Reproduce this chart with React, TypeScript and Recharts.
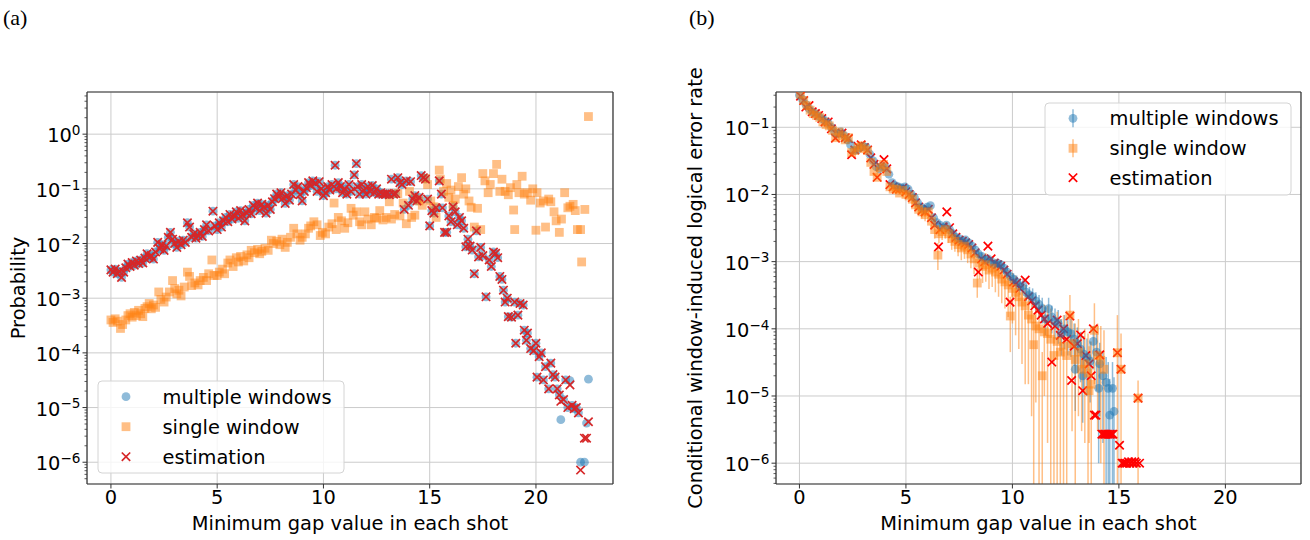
import React from 'react';
import { ScatterChart, Scatter, XAxis, YAxis, CartesianGrid, ErrorBar } from 'recharts';

const FONT = '"DejaVu Sans", "Noto Sans", sans-serif';
const SERIF = '"Liberation Serif", "DejaVu Serif", serif';
const FS = 19.4;
const BLUE = '#1f77b4';
const ORANGE = '#ff7f0e';
const TABRED = '#d62728';
const RED = '#ff0000';
const GRID = '#cbcbcb';
const SPINE = '#333333';
const N = null;
const THIN = 0.01;

// ---------------- Panel (a): probability vs minimum gap ----------------
const gapA = [
  0.0, 0.1, 0.2, 0.3, 0.4, 0.5, 0.6, 0.7, 0.8, 0.9,
  1.0, 1.1, 1.2, 1.3, 1.4, 1.5, 1.6, 1.7, 1.8, 1.9,
  2.0, 2.1, 2.2, 2.3, 2.4, 2.5, 2.6, 2.7, 2.8, 2.9,
  3.0, 3.1, 3.2, 3.3, 3.4, 3.5, 3.6, 3.7, 3.8, 3.9,
  4.0, 4.1, 4.2, 4.3, 4.4, 4.5, 4.6, 4.8, 4.9, 5.0,
  5.1, 5.2, 5.3, 5.4, 5.5, 5.6, 5.7, 5.8, 5.9, 6.0,
  6.1, 6.2, 6.3, 6.4, 6.5, 6.6, 6.7, 6.8, 6.9, 7.0,
  7.1, 7.2, 7.3, 7.4, 7.5, 7.6, 7.7, 7.8, 7.9, 8.0,
  8.1, 8.2, 8.3, 8.4, 8.5, 8.6, 8.7, 8.8, 8.9, 9.0,
  9.1, 9.2, 9.3, 9.4, 9.5, 9.6, 9.7, 9.8, 9.9, 10.0,
  10.1, 10.2, 10.3, 10.4, 10.55, 10.6, 10.7, 10.8, 10.9, 11.0,
  11.1, 11.2, 11.3, 11.45, 11.55, 11.6, 11.7, 11.8, 11.9, 12.0,
  12.1, 12.2, 12.3, 12.4, 12.5, 12.6, 12.7, 12.8, 12.9, 13.0,
  13.1, 13.2, 13.3, 13.4, 13.5, 13.6, 13.7, 13.8, 13.9, 14.0,
  14.1, 14.2, 14.3, 14.4, 14.5, 14.6, 14.7, 14.8, 14.9, 15.0,
  15.1, 15.2, 15.3, 15.45, 15.55, 15.6, 15.7, 15.8, 15.9, 16.0,
  16.1, 16.2, 16.3, 16.4, 16.5, 16.6, 16.7, 16.8, 16.9, 17.0,
  17.1, 17.2, 17.3, 17.4, 17.5, 17.65, 17.8, 17.9, 18.0, 18.1,
  18.2, 18.3, 18.4, 18.47, 18.55, 18.65, 18.7, 18.85, 19.0, 19.05,
  19.15, 19.25, 19.4, 19.45, 19.55, 19.6, 19.75, 19.9, 20.0, 20.05,
  20.15, 20.25, 20.35, 20.45, 20.6, 20.7, 20.8, 20.9, 21.0, 21.1,
  21.17, 21.3, 21.4, 21.5, 21.6, 21.7, 21.8, 21.9, 22.0, 22.1,
  22.28, 22.38, 22.47,
];
const probA_multi = [
  3.3e-3, 3.0e-3, 3.4e-3, 2.8e-3, 3.1e-3, 2.4e-3, 3.0e-3, 3.6e-3, 4.2e-3, 3.8e-3,
  4.5e-3, 4.0e-3, 4.8e-3, 4.3e-3, 5.0e-3, 4.4e-3, 5.4e-3, 6.5e-3, 5.6e-3, 6.0e-3,
  5.2e-3, 7.0e-3, 1.05e-2, 8.0e-3, 9.5e-3, 7.5e-3, 9.0e-3, 1.3e-2, 1.6e-2, 1.2e-2,
  1.0e-2, 8.5e-3, 1.1e-2, 9.5e-3, 1.15e-2, 1.05e-2, 2.4e-2, 2.0e-2, 1.3e-2, 1.5e-2,
  1.25e-2, 1.4e-2, 1.6e-2, 1.35e-2, 1.8e-2, 2.2e-2, 1.7e-2, 3.9e-2, 2.1e-2, 1.8e-2,
  2.4e-2, 2.0e-2, 2.6e-2, 3.0e-2, 2.5e-2, 3.4e-2, 2.8e-2, 3.2e-2, 3.8e-2, 2.9e-2,
  4.0e-2, 3.3e-2, 2.6e-2, 3.6e-2, 4.2e-2, 3.5e-2, 5.0e-2, 4.5e-2, 5.5e-2, 4.0e-2,
  5.2e-2, 4.6e-2, 3.6e-2, 5.0e-2, 4.2e-2, 5.8e-2, 6.6e-2, 8.0e-2, 7.2e-2, 8.5e-2,
  6.8e-2, 5.4e-2, 7.5e-2, 6.2e-2, 8.0e-2, 1.2e-1, 9.5e-2, 1.1e-1, 7.8e-2, 6.0e-2,
  9.0e-2, 1.05e-1, 1.3e-1, 1.15e-1, 1.4e-1, 1.25e-1, 9.0e-2, 1.35e-1, 1.0e-1, 7.5e-2,
  8.5e-2, 1.1e-1, 9.5e-2, 1.2e-1, 2.7e-1, 1.0e-1, 1.3e-1, 1.1e-1, 8.5e-2, 1.0e-1,
  8.0e-2, 1.2e-1, 9.0e-2, 1.8e-1, 2.9e-1, 1.1e-1, 8.0e-2, 1.2e-1, 9.5e-2, 8.0e-2,
  1.1e-1, 9.0e-2, 1.15e-1, 8.5e-2, 1.0e-1, 8.0e-2, 8.5e-2, 8.0e-2, 8.0e-2, 8.2e-2,
  7.8e-2, 1.5e-1, 8.0e-2, 8.2e-2, 1.6e-1, 1.3e-1, 1.2e-1, 4.2e-2, 1.4e-1, 5.0e-2,
  1.35e-1, 6.5e-2, 7.5e-2, 6.0e-2, 7.0e-2, 1.75e-1, 1.6e-1, 1.5e-1, 6.5e-2, 2.1e-2,
  4.0e-2, 3.6e-2, 4.5e-2, 1.4e-1, 8.0e-2, 4.5e-2, 1.6e-2, 1.6e-2, 3.2e-2, 2.5e-2,
  4.7e-2, 3.8e-2, 2.2e-2, 3.0e-2, 2.6e-2, 1.9e-2, 8.7e-3, 1.2e-2, 9.0e-3, 7.6e-3,
  2.8e-3, 1.7e-2, 5.7e-3, 8.5e-3, 6.0e-3, 1.06e-3, 5.0e-3, 3.8e-3, 7.0e-3, 6.6e-3,
  5.5e-3, 2.5e-3, 2.2e-3, 1.4e-3, 8.5e-4, 1.0e-3, 4.6e-4, 4.5e-4, 8.5e-4, 1.5e-4,
  4.9e-4, 8.0e-4, 7.5e-4, 2.6e-4, 1.7e-4, 2.3e-4, 1.2e-4, 1.1e-4, 1.5e-4, 3.6e-5,
  8.5e-5, 1.0e-4, 3.2e-5, 5.6e-5, 2.2e-5, 6.5e-5, 4.0e-5, 3.6e-5, 2.2e-5, 1.7e-5,
  6.0e-6, 1.4e-5, 3.2e-5, 1.0e-5, 3.1e-5, 1.1e-5, 9.5e-6, 1.0e-5, 8.0e-6, 1.0e-6,
  1.0e-6, 5.2e-6, 3.3e-5,
];
const probA_est = [
  3.3e-3, 3.0e-3, 3.4e-3, 2.8e-3, 3.1e-3, 2.4e-3, 3.0e-3, 3.6e-3, 4.2e-3, 3.8e-3,
  4.5e-3, 4.0e-3, 4.8e-3, 4.3e-3, 5.0e-3, 4.4e-3, 5.4e-3, 6.5e-3, 5.6e-3, 6.0e-3,
  5.2e-3, 7.0e-3, 1.05e-2, 8.0e-3, 9.5e-3, 7.5e-3, 9.0e-3, 1.3e-2, 1.6e-2, 1.2e-2,
  1.0e-2, 8.5e-3, 1.1e-2, 9.5e-3, 1.15e-2, 1.05e-2, 2.4e-2, 2.0e-2, 1.3e-2, 1.5e-2,
  1.25e-2, 1.4e-2, 1.6e-2, 1.35e-2, 1.8e-2, 2.2e-2, 1.7e-2, 3.9e-2, 2.1e-2, 1.8e-2,
  2.4e-2, 2.0e-2, 2.6e-2, 3.0e-2, 2.5e-2, 3.4e-2, 2.8e-2, 3.2e-2, 3.8e-2, 2.9e-2,
  4.0e-2, 3.3e-2, 2.6e-2, 3.6e-2, 4.2e-2, 3.5e-2, 5.0e-2, 4.5e-2, 5.5e-2, 4.0e-2,
  5.2e-2, 4.6e-2, 3.6e-2, 5.0e-2, 4.2e-2, 5.8e-2, 6.6e-2, 8.0e-2, 7.2e-2, 8.5e-2,
  6.8e-2, 5.4e-2, 7.5e-2, 6.2e-2, 8.0e-2, 1.2e-1, 9.5e-2, 1.1e-1, 7.8e-2, 6.0e-2,
  9.0e-2, 1.05e-1, 1.3e-1, 1.15e-1, 1.4e-1, 1.25e-1, 9.0e-2, 1.35e-1, 1.0e-1, 7.5e-2,
  8.5e-2, 1.1e-1, 9.5e-2, 1.2e-1, 2.7e-1, 1.0e-1, 1.3e-1, 1.1e-1, 8.5e-2, 1.0e-1,
  8.0e-2, 1.2e-1, 9.0e-2, 1.8e-1, 2.9e-1, 1.1e-1, 8.0e-2, 1.2e-1, 9.5e-2, 8.0e-2,
  1.1e-1, 9.0e-2, 1.15e-1, 8.5e-2, 1.0e-1, 8.0e-2, 8.5e-2, 8.0e-2, 8.0e-2, 8.2e-2,
  7.8e-2, 1.5e-1, 8.0e-2, 8.2e-2, 1.6e-1, 1.3e-1, 1.2e-1, 4.2e-2, 1.4e-1, 5.0e-2,
  1.35e-1, 6.5e-2, 7.5e-2, 6.0e-2, 7.0e-2, 1.75e-1, 1.6e-1, 1.5e-1, 6.5e-2, 2.1e-2,
  4.0e-2, 3.6e-2, 4.5e-2, 1.4e-1, 8.0e-2, 4.5e-2, 1.6e-2, 1.6e-2, 3.2e-2, 2.5e-2,
  4.7e-2, 3.8e-2, 2.2e-2, 3.0e-2, 2.6e-2, 1.9e-2, 8.7e-3, 1.2e-2, 9.0e-3, 7.6e-3,
  2.8e-3, 1.7e-2, 5.7e-3, 8.5e-3, 6.0e-3, 1.06e-3, 5.0e-3, 3.8e-3, 7.0e-3, 6.6e-3,
  5.5e-3, 2.5e-3, 2.2e-3, 1.4e-3, 8.5e-4, 1.0e-3, 4.6e-4, 4.5e-4, 8.5e-4, 1.5e-4,
  4.9e-4, 8.0e-4, 7.5e-4, 2.6e-4, 1.7e-4, 2.3e-4, 1.2e-4, 1.1e-4, 1.5e-4, 3.6e-5,
  8.5e-5, 1.0e-4, 3.2e-5, 5.6e-5, 2.2e-5, 6.5e-5, 4.0e-5, 3.6e-5, 2.2e-5, 1.7e-5,
  1.3e-5, 1.4e-5, 3.2e-5, 1.0e-5, 2.6e-5, 1.1e-5, 9.5e-6, 1.0e-5, 8.0e-6, 7.2e-7,
  2.75e-6, 2.75e-6, 5.5e-6,
];
const gapA_single = [
  0.0, 0.1, 0.2, 0.3, 0.45, 0.55, 0.7, 0.8, 0.9, 1.0,
  1.1, 1.2, 1.3, 1.4, 1.5, 1.6, 1.7, 1.8, 1.9, 2.0,
  2.1, 2.25, 2.35, 2.5, 2.6, 2.75, 2.9, 3.0, 3.1, 3.2,
  3.3, 3.45, 3.6, 3.7, 3.8, 3.95, 4.1, 4.2, 4.35, 4.5,
  4.6, 4.75, 4.85, 5.0, 5.1, 5.25, 5.35, 5.5, 5.6, 5.75,
  5.9, 6.0, 6.1, 6.25, 6.4, 6.5, 6.6, 6.75, 6.9, 7.0,
  7.1, 7.25, 7.4, 7.55, 7.65, 7.8, 7.95, 8.05, 8.2, 8.3,
  8.45, 8.6, 8.75, 8.9, 9.0, 9.15, 9.3, 9.4, 9.55, 9.7,
  9.85, 9.95, 10.1, 10.25, 10.4, 10.5, 10.6, 10.7, 10.85, 11.0,
  11.15, 11.3, 11.4, 11.55, 11.7, 11.8, 11.95, 12.1, 12.25, 12.4,
  12.5, 12.65, 12.8, 12.95, 13.1, 13.2, 13.35, 13.5, 13.6, 13.75,
  13.9, 14.05, 14.15, 14.3, 14.4, 14.5, 14.65, 14.8, 14.9, 15.05,
  15.2, 15.3, 15.45, 15.5, 15.65, 15.8, 15.9, 16.0, 16.1, 16.2,
  16.35, 16.5, 16.6, 16.7, 16.85, 16.95, 17.1, 17.25, 17.4, 17.5,
  17.6, 17.75, 17.85, 18.0, 18.15, 18.3, 18.4, 18.55, 18.7, 18.8,
  18.95, 19.0, 19.1, 19.2, 19.35, 19.45, 19.6, 19.75, 19.85, 20.0,
  20.05, 20.2, 20.35, 20.45, 20.6, 20.7, 20.85, 20.95, 21.1, 21.2,
  21.35, 21.5, 21.6, 21.75, 21.85, 21.95, 22.1, 22.15, 22.3, 22.47,
];
const probA_single = [
  4.0e-4, 3.6e-4, 4.2e-4, 3.8e-4, 2.8e-4, 3.3e-4, 4.0e-4, 4.8e-4, 5.2e-4, 4.5e-4,
  5.5e-4, 4.8e-4, 6.0e-4, 5.2e-4, 4.6e-4, 6.5e-4, 7.0e-4, 8.0e-4, 6.4e-4, 7.5e-4,
  6.8e-4, 1.3e-3, 9.5e-4, 8.5e-4, 1.05e-3, 1.3e-3, 2.1e-3, 1.5e-3, 1.2e-3, 1.4e-3,
  1.1e-3, 1.6e-3, 3.0e-3, 2.5e-3, 1.7e-3, 1.9e-3, 1.75e-3, 2.1e-3, 2.4e-3, 2.1e-3,
  2.8e-3, 5.0e-3, 2.6e-3, 2.6e-3, 3.0e-3, 3.4e-3, 2.8e-3, 4.4e-3, 5.0e-3, 3.8e-3,
  5.5e-3, 4.6e-3, 5.8e-3, 4.8e-3, 6.2e-3, 5.5e-3, 7.5e-3, 6.8e-3, 7.8e-3, 6.5e-3,
  7.2e-3, 8.2e-3, 7.5e-3, 1.15e-2, 1.0e-2, 1.1e-2, 9.5e-3, 1.2e-2, 8.5e-3, 1.05e-2,
  1.3e-2, 1.9e-2, 1.5e-2, 1.15e-2, 1.3e-2, 1.5e-2, 1.9e-2, 2.1e-2, 2.5e-2, 2.2e-2,
  1.4e-2, 1.6e-2, 1.5e-2, 2.0e-2, 2.3e-2, 5.5e-2, 1.8e-2, 3.0e-2, 2.6e-2, 1.9e-2,
  2.4e-2, 4.4e-2, 3.3e-2, 3.8e-2, 2.5e-2, 2.2e-2, 3.8e-2, 2.8e-2, 2.2e-2, 3.0e-2,
  2.9e-2, 4.0e-2, 2.7e-2, 3.0e-2, 5.8e-2, 2.8e-2, 3.4e-2, 8.2e-2, 3.2e-2, 5.5e-2,
  2.3e-2, 9.0e-2, 3.0e-2, 3.3e-2, 6.5e-2, 6.0e-2, 5.0e-2, 1.55e-1, 1.2e-1, 6.0e-2,
  4.7e-2, 3.0e-2, 2.2e-1, 1.5e-1, 9.0e-2, 1.25e-1, 7.0e-2, 9.5e-2, 5.0e-2, 6.5e-2,
  1.1e-1, 1.6e-1, 8.0e-2, 1.0e-1, 6.0e-2, 4.6e-2, 2.0e-2, 4.4e-2, 1.8e-2, 1.9e-1,
  1.4e-1, 8.5e-2, 1.2e-1, 1.9e-1, 2.8e-1, 9.0e-2, 1.5e-1, 9.0e-2, 7.8e-2, 1.05e-1,
  4.1e-2, 1.8e-2, 1.2e-1, 8.5e-2, 1.7e-1, 8.0e-2, 8.5e-2, 6.2e-2, 1.0e-1, 1.75e-2,
  8.5e-2, 5.5e-2, 6.0e-2, 2.0e-2, 6.5e-2, 5.8e-2, 3.8e-2, 2.6e-2, 1.6e-2, 2.8e-2,
  8.5e-2, 4.5e-2, 4.8e-2, 5.2e-2, 4.0e-2, 1.8e-2, 1.8e-2, 4.6e-3, 4.2e-2, 2.1,
];

// ---------------- Panel (b): conditional window-induced logical error rate ----------------
const gapB_multi = [
  0.0, 0.15, 0.3, 0.45, 0.6, 0.75, 0.9, 1.05, 1.2, 1.35,
  1.5, 1.65, 1.8, 1.95, 2.1, 2.25, 2.4, 2.55, 2.7, 2.85,
  3.0, 3.15, 3.3, 3.45, 3.6, 3.75, 3.9, 4.05, 4.2, 4.35,
  4.5, 4.65, 4.8, 4.95, 5.1, 5.25, 5.4, 5.55, 5.7, 5.85,
  6.0, 6.15, 6.3, 6.45, 6.6, 6.75, 6.9, 7.05, 7.2, 7.35,
  7.5, 7.65, 7.8, 7.95, 8.1, 8.25, 8.4, 8.55, 8.7, 8.85,
  9.0, 9.15, 9.3, 9.45, 9.6, 9.75, 9.9, 10.05, 10.2, 10.35,
  10.5, 10.65, 10.8, 10.95, 11.1, 11.25, 11.4, 11.55, 11.7, 11.85,
  12.0, 12.15, 12.3, 12.45, 12.6, 12.75, 12.9, 12.95, 13.05, 13.2,
  13.3, 13.35, 13.5, 13.65, 13.8, 13.95, 14.05, 14.1, 14.25, 14.4,
  14.5, 14.57, 14.7, 14.77,
];
const rateB_multi = [
  3.0e-1, 2.6e-1, 2.2e-1, 1.9e-1, 1.7e-1, 1.6e-1, 1.45e-1, 1.35e-1, 1.25e-1, 1.15e-1,
  1.0e-1, 8.5e-2, 8.0e-2, 8.5e-2, 7.5e-2, 6.5e-2, 5.5e-2, 4.5e-2, 4.6e-2, 5.0e-2,
  5.2e-2, 5.0e-2, 4.0e-2, 3.2e-2, 2.6e-2, 2.4e-2, 2.6e-2, 2.5e-2, 2.0e-2, 1.5e-2,
  1.35e-2, 1.3e-2, 1.25e-2, 1.3e-2, 1.2e-2, 1.0e-2, 9.0e-3, 7.5e-3, 6.5e-3, 6.0e-3,
  6.5e-3, 6.8e-3, 4.5e-3, 3.8e-3, 3.5e-3, 3.2e-3, 3.5e-3, 3.0e-3, 2.6e-3, 2.3e-3,
  2.2e-3, 2.0e-3, 2.1e-3, 1.9e-3, 1.7e-3, 1.5e-3, 1.3e-3, 1.2e-3, 1.05e-3, 1.1e-3,
  1.0e-3, 9.0e-4, 9.5e-4, 9.0e-4, 8.0e-4, 7.0e-4, 6.0e-4, 5.5e-4, 5.0e-4, 4.2e-4,
  4.4e-4, 3.5e-4, 3.2e-4, 3.0e-4, 2.6e-4, 2.3e-4, 2.0e-4, 1.4e-4, 2.0e-4, 1.5e-4,
  1.3e-4, 1.2e-4, 8.5e-5, 1.0e-4, 9.0e-5, 8.5e-5, 7.0e-5, 2.5e-5, 6.0e-5, 5.0e-5,
  2.0e-5, 4.2e-5, 3.8e-5, 3.3e-5, 6.5e-5, 4.5e-5, 1.3e-5, 3.0e-5, 2.0e-5, 1.6e-5,
  1.3e-5, 5.2e-6, 1.3e-5, 5.9e-6,
];
// lower / upper ends of the error bars (null = bar hidden by the marker, 0 = bar reaches zero)
const loB_multi = [
  N, N, N, N, N, N, N, N, N, N,
  N, N, N, N, N, N, N, N, N, N,
  N, N, N, N, N, N, N, N, N, N,
  N, N, N, N, N, N, N, N, N, N,
  N, N, N, N, N, N, N, N, N, N,
  N, N, N, N, N, N, 1.15e-3, 1.05e-3, 9.0e-4, 9.5e-4,
  8.5e-4, 7.7e-4, 8.0e-4, 7.5e-4, 6.6e-4, 5.7e-4, 4.8e-4, 4.4e-4, 3.9e-4, 3.2e-4,
  3.4e-4, 2.6e-4, 2.3e-4, 2.1e-4, 1.8e-4, 1.5e-4, 1.2e-4, 8.0e-5, 1.2e-4, 8.5e-5,
  7.0e-5, 6.0e-5, 4.0e-5, 5.0e-5, 4.0e-5, 3.8e-5, 2.8e-5, 6.0e-6, 2.2e-5, 1.6e-5,
  4.0e-6, 1.2e-5, 1.0e-5, 8.0e-6, 2.5e-5, 1.2e-5, 1.0e-6, 5.0e-6, 2.0e-6, 0,
  0, 0, 0, 0,
];
const hiB_multi = [
  N, N, N, N, N, N, N, N, N, N,
  N, N, N, N, N, N, N, N, N, N,
  N, N, N, N, N, N, N, N, N, N,
  N, N, N, N, N, N, N, N, N, N,
  N, N, N, N, N, N, N, N, N, N,
  N, N, N, N, N, N, 1.45e-3, 1.35e-3, 1.2e-3, 1.25e-3,
  1.15e-3, 1.05e-3, 1.1e-3, 1.05e-3, 9.5e-4, 8.4e-4, 7.3e-4, 6.7e-4, 6.2e-4, 5.3e-4,
  5.5e-4, 4.5e-4, 4.2e-4, 4.0e-4, 3.5e-4, 3.2e-4, 2.9e-4, 2.1e-4, 2.9e-4, 2.2e-4,
  2.0e-4, 1.9e-4, 1.4e-4, 1.6e-4, 1.5e-4, 1.4e-4, 1.2e-4, 5.0e-5, 1.05e-4, 9.0e-5,
  4.2e-5, 7.8e-5, 7.2e-5, 6.5e-5, 1.1e-4, 8.5e-5, 3.2e-5, 6.2e-5, 4.5e-5, 3.8e-5,
  3.2e-5, 1.8e-5, 3.2e-5, 1.9e-5,
];
const gapB_single = [
  0.05, 0.2, 0.35, 0.5, 0.65, 0.8, 0.95, 1.1, 1.25, 1.4,
  1.55, 1.7, 1.85, 2.0, 2.15, 2.3, 2.45, 2.6, 2.75, 2.9,
  3.05, 3.2, 3.35, 3.5, 3.65, 3.8, 3.95, 4.1, 4.25, 4.4,
  4.55, 4.7, 4.85, 5.0, 5.15, 5.3, 5.45, 5.6, 5.75, 5.9,
  6.05, 6.2, 6.35, 6.5, 6.55, 6.7, 6.85, 7.0, 7.15, 7.3,
  7.45, 7.6, 7.75, 7.9, 8.05, 8.2, 8.35, 8.45, 8.6, 8.75,
  8.9, 9.05, 9.2, 9.35, 9.5, 9.65, 9.8, 9.9, 10.0, 10.15,
  10.3, 10.45, 10.6, 10.75, 10.9, 11.0, 11.1, 11.25, 11.4, 11.5,
  11.65, 11.8, 11.95, 12.1, 12.25, 12.4, 12.55, 12.7, 12.8, 12.95,
  13.1, 13.25, 13.4, 13.55, 13.6, 13.7, 13.85, 14.0, 14.15, 14.3,
  14.93, 15.1, 15.9,
];
const rateB_single = [
  3.1e-1, 2.5e-1, 2.1e-1, 1.8e-1, 1.6e-1, 1.5e-1, 1.4e-1, 1.2e-1, 1.1e-1, 1.05e-1,
  9.0e-2, 7.0e-2, 8.5e-2, 7.5e-2, 6.5e-2, 7.0e-2, 4.2e-2, 4.5e-2, 5.0e-2, 5.3e-2,
  4.8e-2, 4.5e-2, 3.0e-2, 2.2e-2, 1.8e-2, 2.5e-2, 2.8e-2, 2.2e-2, 1.3e-2, 1.2e-2,
  1.2e-2, 1.05e-2, 1.15e-2, 1.0e-2, 9.5e-3, 8.5e-3, 7.0e-3, 6.0e-3, 5.5e-3, 5.0e-3,
  5.5e-3, 4.0e-3, 3.0e-3, 1.25e-3, 2.6e-3, 2.8e-3, 3.0e-3, 2.6e-3, 2.2e-3, 2.0e-3,
  1.8e-3, 1.6e-3, 1.7e-3, 1.5e-3, 1.3e-3, 1.1e-3, 4.8e-4, 9.5e-4, 8.5e-4, 9.0e-4,
  7.5e-4, 8.0e-4, 7.0e-4, 6.5e-4, 5.5e-4, 5.0e-4, 4.5e-4, 1.55e-4, 4.0e-4, 3.5e-4,
  3.0e-4, 2.5e-4, 2.2e-4, 1.6e-4, 1.4e-4, 5.8e-5, 1.1e-4, 1.0e-4, 2.0e-5, 9.0e-5,
  8.5e-5, 7.0e-5, 4.0e-5, 6.5e-5, 4.5e-5, 5.5e-5, 4.0e-5, 1.6e-4, 6.0e-5, 3.5e-5,
  4.5e-5, 2.5e-5, 3.0e-5, 2.2e-5, 1.2e-5, 1.5e-5, 9.5e-5, 4.0e-5, 3.4e-5, 2.5e-5,
  4.4e-5, 2.5e-5, 9.3e-6,
];
const loB_single = [
  N, N, N, N, N, N, N, N, N, N,
  N, N, N, N, N, N, N, N, N, N,
  N, N, N, N, N, N, N, N, N, N,
  N, N, N, N, N, 7.2e-3, 5.8e-3, 4.9e-3, 4.4e-3, 4.0e-3,
  4.4e-3, 3.1e-3, 2.2e-3, 7.5e-4, 1.9e-3, 2.1e-3, 2.2e-3, 1.9e-3, 1.5e-3, 1.4e-3,
  1.2e-3, 1.05e-3, 1.1e-3, 9.5e-4, 8.0e-4, 6.5e-4, 2.9e-4, 5.5e-4, 4.8e-4, 5.0e-4,
  3.9e-4, 4.2e-4, 3.5e-4, 3.0e-4, 2.4e-4, 2.0e-4, 1.5e-4, 4.5e-5, 1.2e-4, 8.0e-5,
  5.0e-5, 3.0e-5, 1.5e-5, 1.5e-5, 5.0e-6, 0, 8.0e-6, 0, 0, 1.0e-5,
  2.0e-6, 0, 0, 0, 0, 0, 0, 4.0e-5, 3.0e-6, 0,
  5.0e-6, 3.0e-6, 2.0e-6, 0, 2.0e-6, 0, 1.5e-5, 3.0e-6, 1.0e-6, 0,
  0, 0, 0,
];
const hiB_single = [
  N, N, N, N, N, N, N, N, N, N,
  N, N, N, N, N, N, N, N, N, N,
  N, N, N, N, N, N, N, N, N, N,
  N, N, N, N, N, 1.0e-2, 8.4e-3, 7.3e-3, 6.8e-3, 6.2e-3,
  6.8e-3, 5.0e-3, 3.9e-3, 1.9e-3, 3.4e-3, 3.6e-3, 3.9e-3, 3.4e-3, 2.9e-3, 2.7e-3,
  2.4e-3, 2.2e-3, 2.3e-3, 2.1e-3, 1.85e-3, 1.6e-3, 8.0e-4, 1.4e-3, 1.3e-3, 1.35e-3,
  1.15e-3, 1.2e-3, 1.1e-3, 1.0e-3, 8.8e-4, 8.0e-4, 7.5e-4, 3.0e-4, 6.8e-4, 6.2e-4,
  5.5e-4, 4.8e-4, 4.5e-4, 3.5e-4, 3.2e-4, 1.7e-4, 2.7e-4, 2.5e-4, 4.5e-5, 2.3e-4,
  2.2e-4, 2.0e-4, 1.3e-4, 1.8e-4, 1.4e-4, 1.6e-4, 1.3e-4, 3.2e-4, 1.7e-4, 1.2e-4,
  1.4e-4, 9.0e-5, 1.0e-4, 8.5e-5, 5.5e-5, 6.5e-5, 2.4e-4, 1.2e-4, 1.1e-4, 9.5e-5,
  1.6e-4, 8.5e-5, 1.7e-5,
];
const gapB_est = [
  0.05, 0.2, 0.3, 0.45, 0.6, 0.75, 0.9, 1.05, 1.2, 1.35,
  1.5, 1.69, 1.85, 2.0, 2.15, 2.3, 2.45, 2.6, 2.75, 2.9,
  3.05, 3.2, 3.35, 3.5, 3.65, 3.8, 3.97, 4.1, 4.25, 4.4,
  4.55, 4.7, 4.85, 5.0, 5.15, 5.3, 5.45, 5.6, 5.75, 5.9,
  6.05, 6.2, 6.35, 6.53, 6.6, 6.75, 6.92, 7.05, 7.2, 7.35,
  7.5, 7.65, 7.8, 7.95, 8.1, 8.25, 8.4, 8.55, 8.7, 8.85,
  9.0, 9.15, 9.3, 9.45, 9.6, 9.75, 9.89, 10.05, 10.2, 10.35,
  10.6, 10.75, 10.9, 11.05, 11.2, 11.35, 11.5, 11.65, 11.85, 12.0,
  12.1, 12.25, 12.4, 12.55, 12.7, 12.78, 12.9, 13.05, 13.2, 13.3,
  13.45, 13.6, 13.7, 13.8, 13.85, 13.92, 14.1, 14.2, 14.28, 14.35,
  14.42, 14.5, 14.58, 14.65, 14.72, 14.93, 15.03, 15.1, 15.15, 15.22,
  15.3, 15.37, 15.45, 15.52, 15.6, 15.67, 15.75, 15.82, 15.9, 15.97,
];
const rateB_est = [
  2.9e-1, 2.5e-1, 2.0e-1, 2.1e-1, 1.7e-1, 1.6e-1, 1.5e-1, 1.35e-1, 1.2e-1, 1.2e-1,
  9.5e-2, 6.9e-2, 8.0e-2, 8.2e-2, 7.0e-2, 6.8e-2, 3.9e-2, 4.6e-2, 5.2e-2, 5.5e-2,
  5.0e-2, 4.6e-2, 3.5e-2, 2.8e-2, 1.8e-2, 2.6e-2, 3.3e-2, 2.4e-2, 1.4e-2, 1.3e-2,
  1.2e-2, 1.2e-2, 1.25e-2, 1.1e-2, 1.0e-2, 9.0e-3, 7.5e-3, 6.5e-3, 5.8e-3, 5.5e-3,
  6.0e-3, 4.5e-3, 3.5e-3, 1.66e-3, 3.0e-3, 3.3e-3, 5.5e-3, 3.2e-3, 2.6e-3, 2.3e-3,
  2.1e-3, 2.0e-3, 1.9e-3, 1.8e-3, 1.6e-3, 1.35e-3, 7.0e-4, 1.1e-3, 1.0e-3, 1.7e-3,
  1.1e-3, 9.5e-4, 9.0e-4, 8.5e-4, 7.5e-4, 6.5e-4, 2.5e-4, 5.0e-4, 4.8e-4, 4.0e-4,
  5.3e-4, 3.0e-4, 2.6e-4, 2.2e-4, 1.9e-4, 1.6e-4, 1.4e-4, 1.2e-4, 3.2e-5, 1.1e-4,
  1.35e-4, 8.0e-5, 1.0e-4, 7.0e-5, 1.55e-4, 1.7e-5, 5.5e-5, 6.0e-5, 8.1e-5, 1.2e-5,
  4.0e-5, 3.0e-5, 2.0e-5, 1.0e-4, 5.2e-6, 5.2e-6, 4.1e-5, 2.7e-6, 2.7e-6, 2.7e-6,
  2.7e-6, 2.7e-6, 2.7e-6, 2.7e-6, 2.7e-6, 4.4e-5, 1.85e-6, 2.5e-5, 1.0e-6, 1.0e-6,
  1.0e-6, 1.0e-6, 1.05e-6, 1.0e-6, 1.05e-6, 1.0e-6, 1.05e-6, 1.0e-6, 9.3e-6, 1.0e-6,
];

// ---------------- Axes ----------------
const xTicks = [0, 5, 10, 15, 20];
const yTicksA = [1e-6, 1e-5, 1e-4, 1e-3, 1e-2, 1e-1, 1];
const yTicksB = [1e-6, 1e-5, 1e-4, 1e-3, 1e-2, 1e-1];
const xDomainA: [number, number] = [-1.125, 23.625];
const xDomainB: [number, number] = [-1.1, 23.55];
const yDomainA: [number, number] = [4.0e-7, 5.9];
const yDomainB: [number, number] = [4.9e-7, 0.335];

const minorTicks = (lo: number, hi: number) => {
  const out: number[] = [];
  for (let e = -8; e <= 1; e++) {
    for (let m = 2; m <= 9; m++) {
      const v = m * Math.pow(10, e);
      if (v > lo && v < hi) out.push(v);
    }
  }
  return out;
};

const pts = (xs: number[], ys: number[]) => xs.map((x, i) => ({ x, y: ys[i] }));
// bars that reach zero are cut at the bottom of the plotted range
const errPts = (xs: number[], ys: number[], lo: (number | null)[], hi: (number | null)[], floor: number) =>
  xs.map((x, i) => {
    const y = ys[i];
    const l = lo[i] == null ? y : Math.max(lo[i] as number, floor);
    const h = hi[i] == null ? y : (hi[i] as number);
    return { x, y, err: [Math.max(0, y - l), Math.max(0, h - y)] };
  });

const dataA_multi = pts(gapA, probA_multi);
const dataA_single = pts(gapA_single, probA_single);
const dataA_est = pts(gapA, probA_est);
const dataB_multi = errPts(gapB_multi, rateB_multi, loB_multi, hiB_multi, yDomainB[0]);
const dataB_single = errPts(gapB_single, rateB_single, loB_single, hiB_single, yDomainB[0]);
const dataB_est = pts(gapB_est, rateB_est);

// ---------------- Marks ----------------
const circleShape = (fill: string) => (p: any) =>
  p.cx == null || isNaN(p.cx) ? <g /> : <circle cx={p.cx} cy={p.cy} r={4.4} fill={fill} fillOpacity={0.5} />;
const squareShape = (fill: string) => (p: any) =>
  p.cx == null || isNaN(p.cx) ? <g /> : (
    <rect x={p.cx - 4.4} y={p.cy - 4.4} width={8.8} height={8.8} fill={fill} fillOpacity={0.5} />
  );
const crossShape = (stroke: string) => (p: any) =>
  p.cx == null || isNaN(p.cx) ? <g /> : (
    <path
      d={`M${p.cx - 4.2},${p.cy - 4.2}L${p.cx + 4.2},${p.cy + 4.2}M${p.cx - 4.2},${p.cy + 4.2}L${p.cx + 4.2},${p.cy - 4.2}`}
      stroke={stroke}
      strokeWidth={1.7}
      fill="none"
    />
  );

const XTick = (p: any) => (
  <text x={p.x} y={p.y} dy={13.6} textAnchor="middle" fontFamily={FONT} fontSize={FS} fill="#000">
    {p.payload.value}
  </text>
);
const YTick = (p: any) => {
  const e = Math.round(Math.log10(p.payload.value));
  const sup = e < 0 ? '\u2212' + Math.abs(e) : String(e);
  return (
    <text x={p.x} y={p.y} textAnchor="end" fontFamily={FONT} fontSize={FS} fill="#000">
      <tspan dy={8}>10</tspan>
      <tspan dy={-7.3} fontSize={13.6}>{sup}</tspan>
    </text>
  );
};
const EmptyTick = () => <g />;

const spine = { stroke: SPINE, strokeWidth: 1.2 };

function frameAxes(xDomain: [number, number], yDomain: [number, number], yTicks: number[]) {
  return [
    <XAxis key="xb" dataKey="x" type="number" domain={xDomain} ticks={xTicks} allowDataOverflow interval={0}
      height={THIN} tickSize={4.5} tickLine={{ stroke: SPINE }} axisLine={spine} tick={<XTick />} />,
    <XAxis key="xt" xAxisId="top" orientation="top" type="number" domain={xDomain} allowDataOverflow
      height={THIN} tick={false} tickLine={false} axisLine={spine} />,
    <YAxis key="yl" dataKey="y" type="number" scale="log" domain={yDomain} ticks={yTicks} allowDataOverflow
      interval={0} width={THIN} tickSize={4.5} tickLine={{ stroke: SPINE }} axisLine={spine} tick={<YTick />} />,
    <YAxis key="ym" yAxisId="minor" type="number" scale="log" domain={yDomain} ticks={minorTicks(yDomain[0], yDomain[1])}
      allowDataOverflow interval={0} width={THIN} tickSize={2.5} tickLine={{ stroke: SPINE, strokeWidth: 0.8 }}
      axisLine={false} tick={<EmptyTick />} />,
    <YAxis key="yr" yAxisId="right" orientation="right" type="number" scale="log" domain={yDomain} allowDataOverflow
      width={THIN} tick={false} tickLine={false} axisLine={spine} />,
  ];
}

const LegendMarker = ({ kind, x, y }: { kind: string; x: number; y: number }) => {
  if (kind === 'circle') return <circle cx={x} cy={y} r={4.4} fill={BLUE} fillOpacity={0.5} />;
  if (kind === 'square') return <rect x={x - 4.4} y={y - 4.4} width={8.8} height={8.8} fill={ORANGE} fillOpacity={0.5} />;
  if (kind === 'ebcircle')
    return (
      <g>
        <line x1={x} y1={y - 9} x2={x} y2={y + 9} stroke={BLUE} strokeOpacity={0.5} strokeWidth={1.5} />
        <circle cx={x} cy={y} r={4.4} fill={BLUE} fillOpacity={0.5} />
      </g>
    );
  if (kind === 'ebsquare')
    return (
      <g>
        <line x1={x} y1={y - 9} x2={x} y2={y + 9} stroke={ORANGE} strokeOpacity={0.5} strokeWidth={1.5} />
        <rect x={x - 4.4} y={y - 4.4} width={8.8} height={8.8} fill={ORANGE} fillOpacity={0.5} />
      </g>
    );
  const c = kind === 'xred' ? RED : TABRED;
  return (
    <path d={`M${x - 4.2},${y - 4.2}L${x + 4.2},${y + 4.2}M${x - 4.2},${y + 4.2}L${x + 4.2},${y - 4.2}`} stroke={c} strokeWidth={1.7} fill="none" />
  );
};

const legendNames = ['multiple windows', 'single window', 'estimation'];

const LegendBox = ({ x, y, w, h, rows, kinds }: { x: number; y: number; w: number; h: number; rows: number[]; kinds: string[] }) => (
  <g>
    <rect x={x} y={y} width={w} height={h} rx={4} ry={4} fill="#ffffff" fillOpacity={0.8} stroke="#d4d4d4" strokeWidth={1} />
    {legendNames.map((name, i) => (
      <g key={name}>
        <LegendMarker kind={kinds[i]} x={x + 28} y={rows[i]} />
        <text x={x + 64.5} y={rows[i] + 7} fontFamily={FONT} fontSize={FS} fill="#000">
          {name}
        </text>
      </g>
    ))}
  </g>
);

export default function App() {
  return (
    <div style={{ position: 'absolute', left: 0, top: 0, width: 1310, height: 540, background: '#fff' }}>
      <div style={{ position: 'absolute', left: 0, top: 0 }}>
        <ScatterChart width={640} height={540} margin={{ top: 92, right: 27, bottom: 56, left: 87 }}>
          <CartesianGrid stroke={GRID} strokeWidth={1} />
          <Scatter data={dataA_multi} shape={circleShape(BLUE)} isAnimationActive={false} />
          <Scatter data={dataA_single} shape={squareShape(ORANGE)} isAnimationActive={false} />
          <Scatter data={dataA_est} shape={crossShape(TABRED)} isAnimationActive={false} />
          {frameAxes(xDomainA, yDomainA, yTicksA)}
        </ScatterChart>
      </div>
      <div style={{ position: 'absolute', left: 640, top: 0 }}>
        <ScatterChart width={670} height={540} margin={{ top: 92, right: 9, bottom: 56, left: 136 }}>
          <CartesianGrid stroke={GRID} strokeWidth={1} />
          <Scatter data={dataB_est} shape={crossShape(RED)} isAnimationActive={false} />
          <Scatter data={dataB_multi} shape={circleShape(BLUE)} isAnimationActive={false}>
            <ErrorBar dataKey="err" direction="y" width={0} stroke={BLUE} strokeOpacity={0.5} strokeWidth={1.5} />
          </Scatter>
          <Scatter data={dataB_single} shape={squareShape(ORANGE)} isAnimationActive={false}>
            <ErrorBar dataKey="err" direction="y" width={0} stroke={ORANGE} strokeOpacity={0.5} strokeWidth={1.5} />
          </Scatter>
          {frameAxes(xDomainB, yDomainB, yTicksB)}
        </ScatterChart>
      </div>
      <svg width={1310} height={540} style={{ position: 'absolute', left: 0, top: 0, pointerEvents: 'none' }}>
        <text x={3} y={25} fontFamily={SERIF} fontSize={22} fill="#000">(a)</text>
        <text x={689} y={25} fontFamily={SERIF} fontSize={22} fill="#000">(b)</text>
        <text x={350} y={530} textAnchor="middle" fontFamily={FONT} fontSize={FS} fill="#000">
          Minimum gap value in each shot
        </text>
        <text x={1038.5} y={530} textAnchor="middle" fontFamily={FONT} fontSize={FS} fill="#000">
          Minimum gap value in each shot
        </text>
        <text transform="translate(25,288) rotate(-90)" textAnchor="middle" fontFamily={FONT} fontSize={FS} fill="#000">
          Probability
        </text>
        <text transform="translate(702,288) rotate(-90)" textAnchor="middle" fontFamily={FONT} fontSize={FS} fill="#000">
          Conditional window-induced logical error rate
        </text>
        <LegendBox x={98} y={381} w={246} h={92} rows={[396.7, 426.7, 456.7]} kinds={['circle', 'square', 'xtab']} />
        <LegendBox x={1045} y={103} w={246} h={92} rows={[118.3, 148.3, 177.7]} kinds={['ebcircle', 'ebsquare', 'xred']} />
      </svg>
    </div>
  );
}
